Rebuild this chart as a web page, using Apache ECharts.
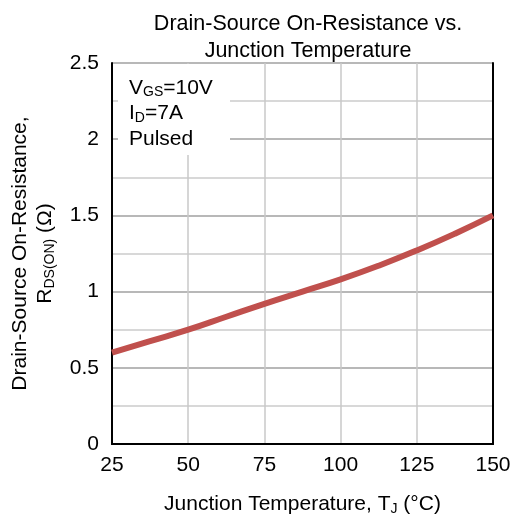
<!DOCTYPE html>
<html>
<head>
<meta charset="utf-8">
<script src="https://cdn.jsdelivr.net/npm/echarts@6/dist/echarts.min.js"></script>
<style>
html,body{margin:0;padding:0;background:#fff;}
#chart{width:513px;height:518px;}
</style>
</head>
<body>
<div id="chart"></div>
<script>
var temps=[25,37.5,50,62.5,75,87.5,100,112.5,125,137.5,150];
var rdsOn=[0.60,0.675,0.75,0.835,0.92,1.0,1.08,1.17,1.27,1.38,1.50];
var xTicks=[25,50,75,100,125,150];
var yTicks=[0,0.5,1,1.5,2,2.5];

var font='"Liberation Sans", Arial, sans-serif';
var fs=21;
var points=[];
for (var i=0;i<temps.length;i++){
    points.push([temps[i],rdsOn[i]]);
}
var myChart=echarts.init(document.getElementById('chart'));
var option={
    animation:false,
    title:{
        text:'Drain-Source On-Resistance vs.\nJunction Temperature',
        left:303,
        textAlign:'center',
        top:6,
        textStyle:{fontFamily:font,fontSize:21.5,fontWeight:'normal',color:'#000',lineHeight:27}
    },
    grid:{left:112,right:20,top:63,bottom:74,containLabel:false,outerBoundsMode:'none'},
    xAxis:[{
        type:'value',min:25,max:150,interval:25,position:'bottom',
        name:'Junction Temperature, T{sub|J} (°C)',
        nameLocation:'middle',nameGap:49,
        nameTextStyle:{fontFamily:font,fontSize:fs,color:'#000',
            rich:{sub:{fontFamily:font,fontSize:14,color:'#000',padding:[9,0,0,0]}}},
        axisLine:{show:true,lineStyle:{color:'#000',width:2}},axisTick:{show:false},
        axisLabel:{fontFamily:font,fontSize:fs,color:'#000',margin:11,
            formatter:function(v){return xTicks.indexOf(v)>=0?String(v):'';}},
        splitLine:{show:true,lineStyle:{color:'#c8c8c8',width:1.5}}
    },{
        type:'value',min:25,max:150,interval:25,position:'top',
        axisLine:{show:true,lineStyle:{color:'#000',width:2}},axisTick:{show:false},
        axisLabel:{show:false},splitLine:{show:false}
    }],
    yAxis:[{
        type:'value',min:0,max:2.5,interval:0.5,position:'left',
        name:'Drain-Source On-Resistance,\nR{sub|DS(ON)} (Ω)',
        nameLocation:'middle',nameGap:54,nameRotate:90,
        nameTextStyle:{fontFamily:font,fontSize:fs,color:'#000',lineHeight:25,align:'center',
            rich:{sub:{fontFamily:font,fontSize:14,color:'#000',padding:[9,0,0,0]}}},
        axisLine:{show:true,lineStyle:{color:'#000',width:2}},axisTick:{show:false},
        axisLabel:{fontFamily:font,fontSize:fs,color:'#000',margin:13,
            formatter:function(v){return yTicks.indexOf(v)>=0?String(v):'';}},
        splitLine:{show:true,lineStyle:{color:'#a0a0a0',width:1.5}},
        minorTick:{show:false,splitNumber:2},
        minorSplitLine:{show:true,lineStyle:{color:'#cccccc',width:1.5}}
    },{
        type:'value',min:0,max:2.5,interval:0.5,position:'right',
        axisLine:{show:true,lineStyle:{color:'#000',width:2}},axisTick:{show:false},
        axisLabel:{show:false},splitLine:{show:false}
    }],
    graphic:[{
        type:'rect',left:118,top:64,z:10,
        shape:{width:112,height:91},
        style:{fill:'#fff'}
    },{
        type:'text',left:129,top:75,z:11,
        style:{
            text:'V{sub|GS}=10V\nI{sub|D}=7A\nPulsed',
            fontFamily:font,fontSize:fs,fill:'#000',lineHeight:25.5,
            rich:{sub:{fontFamily:font,fontSize:14,fill:'#000',padding:[9,0,0,0]}}
        }
    }],
    series:[{
        type:'line',
        data:points,
        smooth:true,
        showSymbol:false,
        lineStyle:{color:'#c0504d',width:6},
        z:5
    }]
};
option && myChart.setOption(option);
</script>
</body>
</html>
